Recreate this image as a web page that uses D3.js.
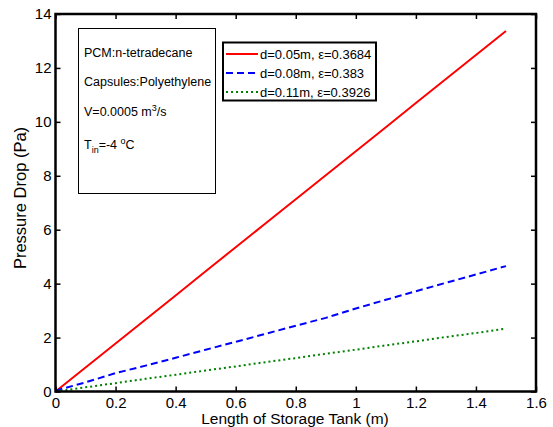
<!DOCTYPE html>
<html><head><meta charset="utf-8">
<script src="https://cdn.jsdelivr.net/npm/d3@7"></script>
<style>body{margin:0;background:#fff}svg{display:block}text{font-family:"Liberation Sans",Arial,sans-serif;fill:#000}</style>
</head><body><svg id="c" width="553" height="427"></svg>
<script>
const lengths = [0,0.1,0.2,0.3,0.4,0.5,0.6,0.7,0.8,0.9,1.0,1.1,1.2,1.3,1.4,1.5];
const dp005 = [0,0.89,1.78,2.67,3.56,4.46,5.35,6.24,7.13,8.02,8.91,9.80,10.70,11.59,12.48,13.37];
const dp008 = [0.03,0.34,0.68,0.96,1.25,1.55,1.84,2.14,2.44,2.73,3.08,3.40,3.72,4.03,4.34,4.65];
const dp011 = [0,0.155,0.31,0.47,0.62,0.78,0.93,1.09,1.24,1.40,1.55,1.71,1.86,2.02,2.17,2.33];
const seriesNames = ["d=0.05m, \u03b5=0.3684","d=0.08m, \u03b5=0.383","d=0.11m, \u03b5=0.3926"];
const xTicks = [0,0.2,0.4,0.6,0.8,1,1.2,1.4,1.6];
const yTicks = [0,2,4,6,8,10,12,14];

const svg = d3.select("#c");
const L=55.5,R=536,T=14,B=391.5;
const x = d3.scaleLinear().domain([0,1.6]).range([L,R]);
const y = d3.scaleLinear().domain([0,14]).range([B,T]);

const series = [
  {v:dp005,color:"#ff0000",dash:null},
  {v:dp008,color:"#0000ff",dash:"7,4"},
  {v:dp011,color:"#008000",dash:"2,3"}
];
const line = d3.line().x(d=>x(d[0])).y(d=>y(d[1]));
series.forEach(s=>{
  svg.append("path").datum(lengths.map((l,i)=>[l,s.v[i]]))
    .attr("d",line).attr("fill","none").attr("stroke",s.color)
    .attr("stroke-width",2).attr("stroke-dasharray",s.dash);
});

// axes
const fmt = d=>String(d);
const gx = svg.append("g").attr("transform",`translate(0,${B})`)
  .call(d3.axisBottom(x).tickValues(xTicks).tickFormat(fmt).tickSizeInner(-5).tickSizeOuter(0).tickPadding(6));
const gxt = svg.append("g").attr("transform",`translate(0,${T})`)
  .call(d3.axisTop(x).tickValues(xTicks).tickFormat("").tickSizeInner(-5).tickSizeOuter(0));
const gy = svg.append("g").attr("transform",`translate(${L},0)`)
  .call(d3.axisLeft(y).tickValues(yTicks).tickFormat(fmt).tickSizeInner(-5).tickSizeOuter(0).tickPadding(4));
const gyr = svg.append("g").attr("transform",`translate(${R},0)`)
  .call(d3.axisRight(y).tickValues(yTicks).tickFormat("").tickSizeInner(-5).tickSizeOuter(0));
[gx,gxt,gy,gyr].forEach(g=>{
  g.select(".domain").remove();
  g.selectAll(".tick line").attr("stroke","#000").attr("stroke-width",1.5);
  g.selectAll("text").style("font-size","15px").attr("font-family",null).style("fill","#000");
});
svg.append("rect").attr("x",L).attr("y",T).attr("width",R-L).attr("height",B-T)
  .attr("fill","none").attr("stroke","#000").attr("stroke-width",2.5);

// axis labels
svg.append("text").attr("x",295).attr("y",424).attr("text-anchor","middle")
  .style("font-size","15.5px").text("Length of Storage Tank (m)");
svg.append("text").attr("transform","translate(26,198) rotate(-90)").attr("text-anchor","middle")
  .style("font-size","16.5px").text("Pressure Drop (Pa)");

// info box
svg.append("rect").attr("x",78.5).attr("y",28.5).attr("width",137).attr("height",165)
  .attr("fill","#fff").attr("stroke","#000").attr("stroke-width",1);
const info = svg.append("g").style("font-size","12.5px");
info.append("text").attr("x",84).attr("y",57).text("PCM:n-tetradecane");
info.append("text").attr("x",84).attr("y",86).text("Capsules:Polyethylene");
const t3 = info.append("text").attr("x",84).attr("y",116);
t3.append("tspan").text("V=0.0005 m");
t3.append("tspan").attr("dy",-5).style("font-size","9px").text("3");
t3.append("tspan").attr("dy",5).text("/s");
const t4 = info.append("text").attr("x",84).attr("y",149);
t4.append("tspan").text("T");
t4.append("tspan").attr("dy",4).style("font-size","9px").text("in");
t4.append("tspan").attr("dy",-4).text("=-4 ");
t4.append("tspan").attr("dy",-5).style("font-size","9px").text("o");
t4.append("tspan").attr("dy",5).text("C");

// legend
svg.append("rect").attr("x",223).attr("y",42.5).attr("width",153).attr("height",58)
  .attr("fill","#fff").attr("stroke","#000").attr("stroke-width",2);
const rowsY=[54,73,92];
series.forEach((s,i)=>{
  svg.append("line").attr("x1",226).attr("x2",258).attr("y1",rowsY[i]).attr("y2",rowsY[i])
    .attr("stroke",s.color).attr("stroke-width",2).attr("stroke-dasharray",s.dash);
  svg.append("text").attr("x",260).attr("y",rowsY[i]+4.5).style("font-size","13px").text(seriesNames[i]);
});
</script></body></html>
